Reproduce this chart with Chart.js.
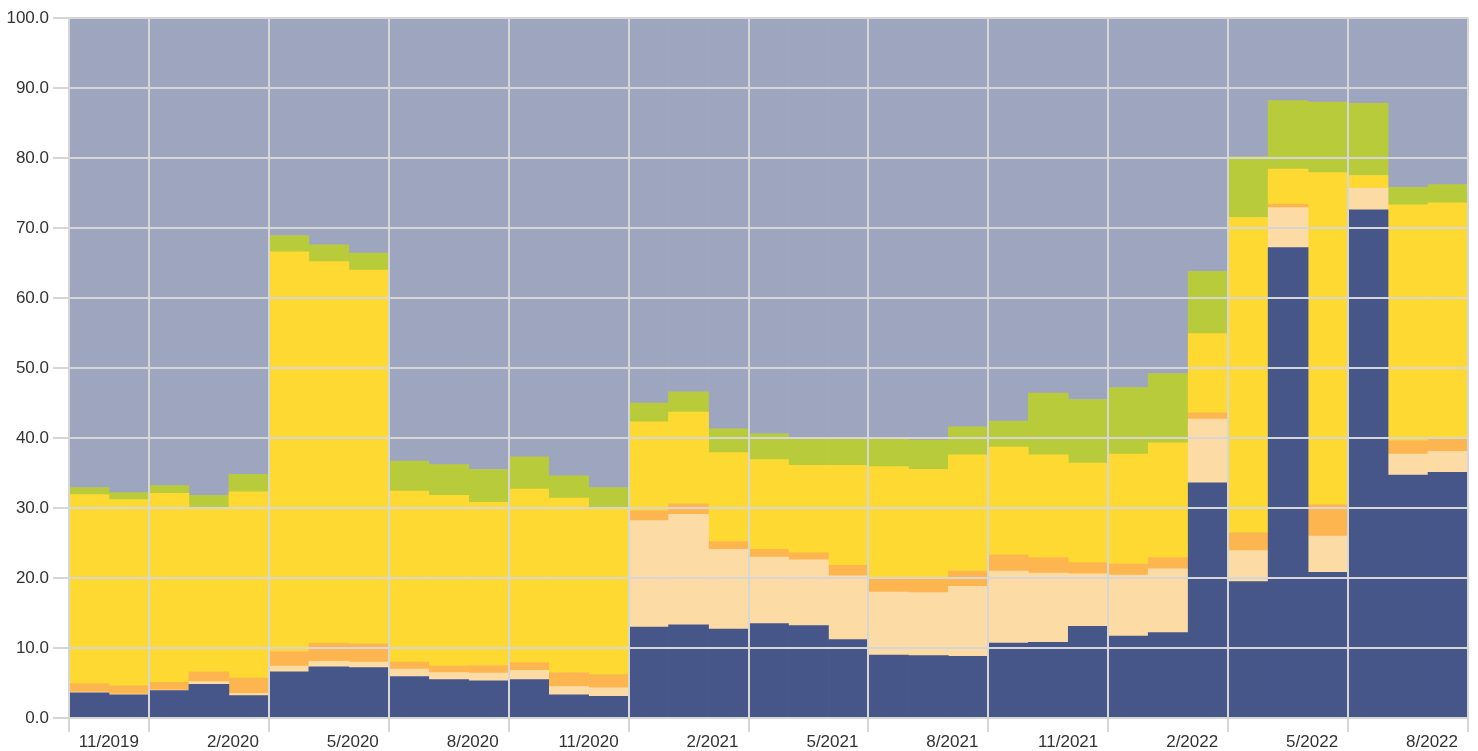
<!DOCTYPE html>
<html>
<head>
<meta charset="utf-8">
<title>Participação mensal</title>
<script src="https://cdn.jsdelivr.net/npm/chart.js@4.4.1/dist/chart.umd.min.js"></script>
<style>
  html, body { margin: 0; padding: 0; background: #ffffff; }
  #area { width: 1478px; height: 751px; position: relative; }
</style>
</head>
<body>
<div id="area"><canvas id="grafico"></canvas></div>
<script>
// Meses (10/2019 a 8/2022)
const meses = [
  "10/2019", "11/2019", "12/2019",
  "1/2020", "2/2020", "3/2020", "4/2020", "5/2020", "6/2020", "7/2020", "8/2020", "9/2020", "10/2020", "11/2020", "12/2020",
  "1/2021", "2/2021", "3/2021", "4/2021", "5/2021", "6/2021", "7/2021", "8/2021", "9/2021", "10/2021", "11/2021", "12/2021",
  "1/2022", "2/2022", "3/2022", "4/2022", "5/2022", "6/2022", "7/2022", "8/2022"
];

// Rótulos que aparecem no eixo x
const rotulosEixo = ["11/2019", "2/2020", "5/2020", "8/2020", "11/2020", "2/2021",
  "5/2021", "8/2021", "11/2021", "2/2022", "5/2022", "8/2022"];

const rotulosY = ["0.0", "10.0", "20.0", "30.0", "40.0", "50.0", "60.0", "70.0", "80.0", "90.0", "100.0"];

// Séries empilhadas, de baixo para cima
const serieAzul = [3.6, 3.3, 3.9, 4.8, 3.2, 6.6, 7.3, 7.2, 5.9, 5.5, 5.3, 5.5, 3.3, 3.1,
  13.0, 13.3, 12.7, 13.5, 13.2, 11.2, 9.0, 8.9, 8.8, 10.7, 10.8, 13.1, 11.7, 12.2,
  33.6, 19.5, 67.2, 20.8, 72.6, 34.7, 35.1];
const seriePessego = [0.1, 0.1, 0.1, 0.4, 0.3, 0.8, 0.8, 0.8, 1.1, 1.0, 1.1, 1.3, 1.2, 1.2,
  15.2, 15.8, 11.4, 9.5, 9.4, 9.1, 9.0, 9.0, 10.0, 10.3, 9.9, 7.5, 8.7, 9.1,
  9.1, 4.4, 5.7, 5.2, 3.1, 3.0, 3.0];
const serieLaranja = [1.2, 1.2, 1.1, 1.4, 2.2, 2.1, 2.6, 2.6, 1.0, 0.9, 1.1, 1.1, 2.0, 1.9,
  1.4, 1.5, 1.1, 1.1, 1.0, 1.5, 1.9, 2.0, 2.2, 2.3, 2.2, 1.6, 1.6, 1.6,
  0.9, 2.6, 0.5, 4.5, 0.0, 1.9, 1.8];
const serieAmarela = [27.0, 26.6, 27.0, 23.5, 26.6, 57.1, 54.5, 53.4, 24.4, 24.4, 23.3, 24.8, 24.9, 23.7,
  12.7, 13.1, 12.7, 12.8, 12.5, 14.3, 16.0, 15.6, 16.6, 15.4, 14.7, 14.2, 15.7, 16.4,
  11.3, 45.0, 5.0, 47.4, 1.8, 33.7, 33.7];
const serieVerde = [1.0, 1.0, 1.1, 1.7, 2.5, 2.3, 2.4, 2.4, 4.3, 4.4, 4.7, 4.6, 3.2, 3.0,
  2.7, 2.9, 3.4, 3.7, 3.8, 3.9, 3.9, 4.2, 4.0, 3.7, 8.8, 9.1, 9.5, 9.9,
  8.9, 8.7, 9.8, 10.1, 10.3, 2.5, 2.6];
const serieCinza = [67.1, 67.8, 66.8, 68.2, 65.2, 31.1, 32.4, 33.6, 63.3, 63.8, 64.5, 62.7, 65.4, 67.1,
  55.0, 53.4, 58.7, 59.4, 60.1, 60.0, 60.2, 60.3, 58.4, 57.6, 53.6, 54.5, 52.8, 50.8,
  36.2, 19.8, 11.8, 12.0, 12.2, 24.2, 23.8];

const corGrade = "#d6d6d6";
const fonteEixo = { family: "'Liberation Sans', Arial, sans-serif", size: 17, lineHeight: 1 };

function serie(dados, cor) {
  return {
    data: dados,
    backgroundColor: cor,
    borderWidth: 0,
    categoryPercentage: 1.0,
    barPercentage: 1.0
  };
}

const ctx = document.getElementById("grafico").getContext("2d");

new Chart(ctx, {
  type: "bar",
  data: {
    labels: meses,
    datasets: [
      serie(serieAzul, "#465689"),
      serie(seriePessego, "#fddba5"),
      serie(serieLaranja, "#fdb64f"),
      serie(serieAmarela, "#fed932"),
      serie(serieVerde, "#b8cb3b"),
      serie(serieCinza, "#9ea6bf")
    ]
  },
  options: {
    responsive: true,
    maintainAspectRatio: false,
    animation: false,
    layout: { padding: { top: 18, right: 10, left: 0, bottom: 0 } },
    plugins: {
      legend: { display: false },
      tooltip: { enabled: false }
    },
    scales: {
      x: {
        stacked: true,
        offset: true,
        border: { display: false },
        grid: {
          z: 1,
          offset: true,
          lineWidth: 2,
          tickLength: 14,
          color: function (c) {
            // linha na borda esquerda, depois a cada trimestre, e a borda final
            if (c.index === undefined || c.index === 0 || c.index % 3 === 2) return corGrade;
            return "rgba(0,0,0,0)";
          }
        },
        ticks: {
          autoSkip: false,
          maxRotation: 0,
          align: "end",
          labelOffset: 10,
          padding: 2,
          color: "#333333",
          font: fonteEixo,
          callback: function (valor, i) {
            const m = meses[i];
            return rotulosEixo.includes(m) ? m : "";
          }
        },
        afterFit: function (escala) { escala.height = 33; }
      },
      y: {
        stacked: true,
        min: 0,
        max: 100,
        border: { display: false },
        grid: {
          z: 1,
          color: corGrade,
          lineWidth: 2,
          tickLength: 16
        },
        ticks: {
          stepSize: 10,
          padding: 4,
          color: "#333333",
          font: fonteEixo,
          callback: function (valor) {
            return rotulosY[Math.round(valor / 10)];
          }
        },
        afterFit: function (escala) { escala.width = 69; }
      }
    }
  }
});
</script>
</body>
</html>
